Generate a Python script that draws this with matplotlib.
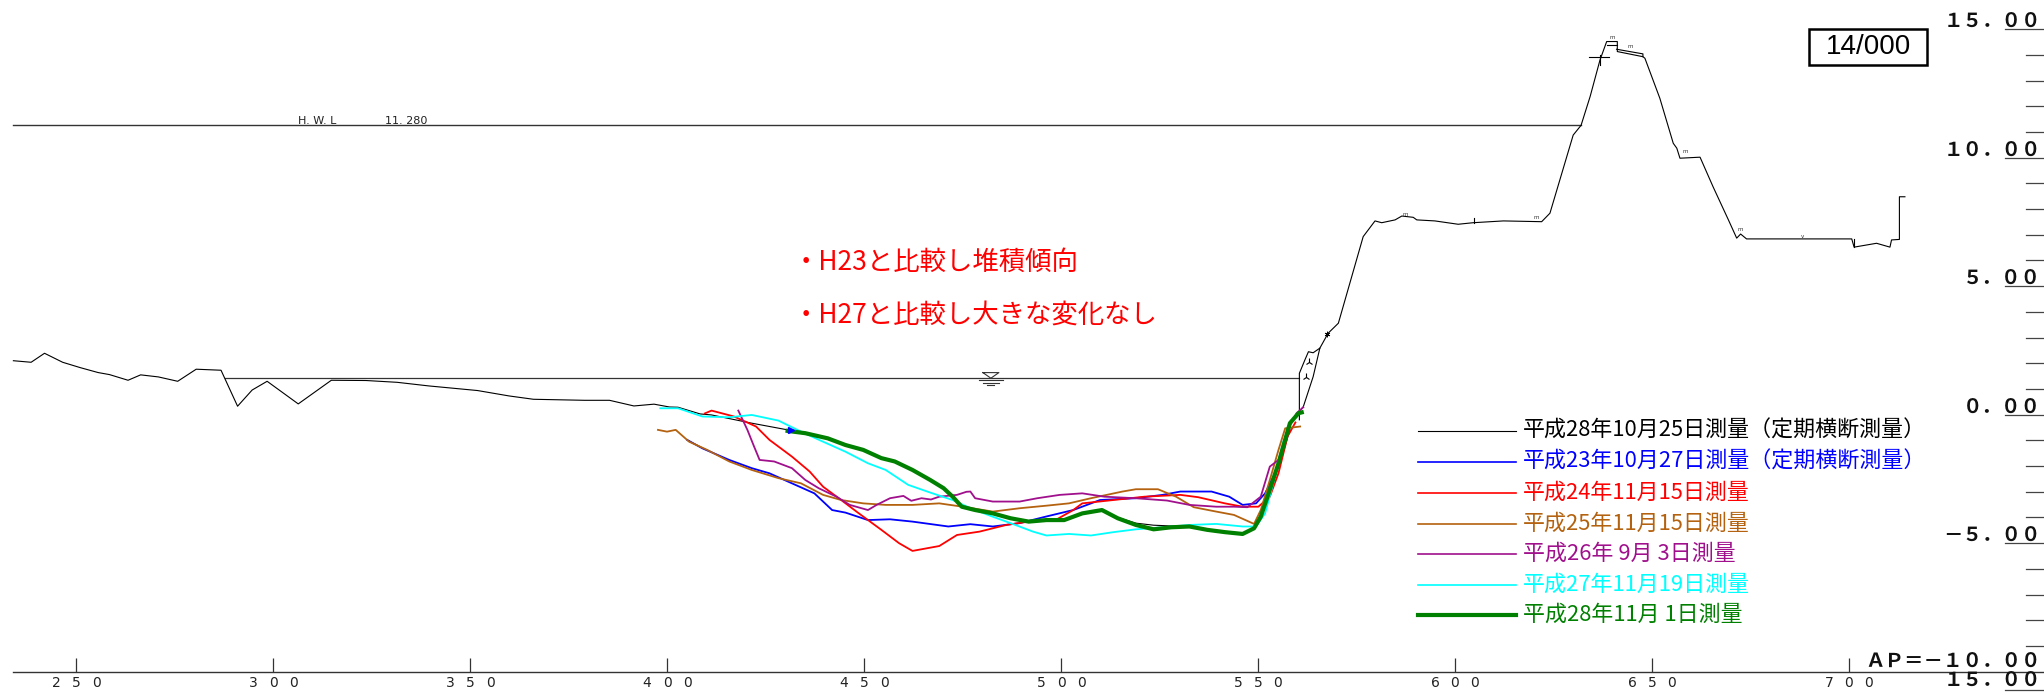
import matplotlib
matplotlib.use('Agg')
import matplotlib.pyplot as plt
from matplotlib.patches import Rectangle

# ---------------- data ----------------
x_ticks = [250, 300, 350, 400, 450, 500, 550, 600, 650, 700]
x_tick_labels = ['250', '300', '350', '400', '450', '500', '550', '600', '650', '700']

y_major_levels = [15, 10, 5, 0, -5]
y_major_labels = ['１５．００', '１０．００', '５．００', '０．００', '－５．００']
datum_label = 'ＡＰ＝－１０．００'
datum_level = -10
scale_label = '１５．００'

hwl_level = 11.28
hwl_text = ['H. W. L', '11. 280']
water_level = 1.42
water_extent = [287.9, 560.5]
section_no = '14/000'

notes = ['・H23と比較し堆積傾向', '・H27と比較し大きな変化なし']

legend_labels = ['平成28年10月25日測量（定期横断測量）',
                 '平成23年10月27日測量（定期横断測量）',
                 '平成24年11月15日測量',
                 '平成25年11月15日測量',
                 '平成26年 9月 3日測量',
                 '平成27年11月19日測量',
                 '平成28年11月 1日測量']

# 平成28年10月25日 (定期横断) - full cross section
h28_1025 = [(234.1, 2.10), (238.6, 2.04), (242.0, 2.39), (246.6, 2.04), (251.1, 1.83), (255.6, 1.64),
            (258.5, 1.56), (263.2, 1.34), (266.4, 1.55), (270.9, 1.47), (275.8, 1.30), (280.5, 1.77),
            (286.8, 1.73), (291.0, 0.33), (294.7, 0.96), (298.5, 1.30), (306.4, 0.42), (314.8, 1.34),
            (323.6, 1.33), (331.5, 1.26), (339.5, 1.12), (351.9, 0.94), (359.9, 0.73), (366.1, 0.60),
            (379.1, 0.56), (385.4, 0.56), (391.6, 0.34), (396.7, 0.41), (400.6, 0.30), (402.8, 0.29),
            (408.4, 0.03), (411.3, -0.01), (421.5, -0.33), (430.6, -0.59), (435.1, -0.70), (440.8, -0.92),
            (445.3, -1.18), (449.8, -1.37), (454.4, -1.69), (457.8, -1.82), (462.3, -2.15), (466.8, -2.54),
            (470.2, -2.86), (472.5, -3.19), (474.8, -3.58), (478.2, -3.71), (482.7, -3.84), (487.2, -4.03),
            (491.8, -4.16), (496.3, -4.10), (500.8, -4.10), (505.4, -3.84), (510.4, -3.71), (514.4, -4.00),
            (519.0, -4.22), (523.5, -4.30), (528.0, -4.33), (532.6, -4.35), (537.1, -4.48), (541.6, -4.57),
            (546.1, -4.64), (549.0, -4.42), (550.7, -3.97), (553.0, -2.92), (555.2, -1.89), (558.1, -0.33),
            (561.5, 0.31), (564.0, 1.48), (565.7, 2.59), (567.8, 3.17), (570.4, 3.56), (576.7, 6.93),
            (579.7, 7.54), (581.4, 7.47), (584.8, 7.58), (586.5, 7.73), (589.4, 7.68), (590.3, 7.58),
            (594.9, 7.54), (600.8, 7.41), (604.6, 7.47), (612.3, 7.54), (622.0, 7.51), (624.1, 7.84),
            (630.0, 10.88), (632.0, 11.26), (634.3, 12.38), (636.8, 13.80), (638.5, 14.52), (641.2, 14.52),
            (641.2, 14.13), (647.7, 13.93), (648.2, 13.87), (652.0, 12.31), (655.4, 10.56), (656.3, 10.37),
            (657.1, 9.98), (662.2, 10.02), (665.5, 8.87), (669.4, 7.58), (671.5, 6.87), (672.5, 7.03),
            (674.0, 6.84), (700.7, 6.84), (701.3, 6.52), (707.0, 6.67), (710.4, 6.52), (710.8, 6.80),
            (712.8, 6.82), (712.8, 8.48), (714.2, 8.48)]

# revetment / crest details drawn with the same line
h28_1025_detail = [
    [(560.5, -0.20), (560.5, 1.61), (561.9, 2.13), (562.8, 2.45), (564.0, 2.41), (565.7, 2.59)],
    [(638.5, 14.39), (641.2, 14.39)],
    [(641.0, 14.22), (647.7, 14.04), (647.7, 13.93)],
    [(604.8, 7.47), (604.8, 7.65)],
    [(701.3, 6.84), (701.3, 6.52)],
    [(636.8, 14.00), (636.8, 13.61)],
    [(634.1, 13.91), (639.2, 13.91)],
]

h23_1027 = [(405.1, -0.98), (409.0, -1.31), (415.8, -1.76), (421.5, -2.08), (426.0, -2.28), (431.7, -2.67),
            (437.4, -3.06), (441.9, -3.71), (445.3, -3.81), (451.0, -4.10), (456.6, -4.07), (462.3, -4.16),
            (471.4, -4.35), (477.0, -4.26), (482.7, -4.35), (489.5, -4.22), (496.3, -3.96), (503.1, -3.71),
            (509.9, -3.32), (518.9, -3.25), (525.8, -3.12), (530.3, -2.99), (538.2, -2.99), (542.7, -3.19),
            (546.1, -3.51), (549.5, -3.45), (551.8, -3.06), (555.2, -2.02), (558.0, -0.59)]

h24_1115 = [(409.6, 0.05), (411.3, 0.16), (417.0, -0.07), (422.6, -0.46), (426.0, -0.98), (431.7, -1.63),
            (436.2, -2.21), (439.6, -2.80), (444.2, -3.32), (448.7, -3.84), (454.4, -4.48), (458.9, -5.00),
            (462.3, -5.30), (469.1, -5.11), (473.6, -4.68), (479.3, -4.55), (486.1, -4.29), (491.8, -4.16),
            (498.6, -4.10), (503.1, -3.71), (505.4, -3.45), (513.3, -3.32), (521.2, -3.19), (530.3, -3.12),
            (534.8, -3.21), (541.6, -3.45), (546.1, -3.58), (550.1, -3.58), (553.0, -3.19), (555.2, -2.28),
            (557.5, -0.85), (559.5, -0.30)]

h25_1115 = [(397.7, -0.59), (400.0, -0.66), (402.2, -0.59), (405.6, -1.05), (410.2, -1.37), (415.8, -1.82),
            (421.5, -2.15), (428.3, -2.47), (434.0, -2.67), (439.6, -3.12), (444.2, -3.32), (449.8, -3.45),
            (455.5, -3.51), (462.3, -3.51), (469.1, -3.45), (475.9, -3.60), (482.7, -3.77), (489.5, -3.64),
            (496.3, -3.54), (502.0, -3.45), (507.6, -3.25), (515.6, -2.99), (519.0, -2.90), (524.6, -2.90),
            (529.2, -3.19), (533.7, -3.60), (539.4, -3.77), (543.9, -3.90), (549.0, -4.25), (550.7, -3.71),
            (553.0, -2.54), (555.2, -1.37), (556.9, -0.53), (560.7, -0.46)]

h26_0903 = [(418.1, 0.16), (420.4, -0.59), (422.1, -1.24), (423.5, -1.76), (427.2, -1.82), (431.7, -2.08),
            (435.1, -2.54), (438.5, -2.86), (443.0, -3.19), (446.4, -3.51), (451.0, -3.71), (453.2, -3.51),
            (456.6, -3.25), (460.0, -3.16), (462.0, -3.35), (464.6, -3.25), (467.0, -3.30), (469.1, -3.19),
            (473.6, -3.12), (476.0, -3.00), (477.0, -2.99), (478.2, -3.25), (482.7, -3.38), (489.5, -3.38),
            (494.0, -3.25), (499.7, -3.12), (505.4, -3.06), (511.0, -3.19), (518.9, -3.25), (526.9, -3.34),
            (532.6, -3.51), (539.4, -3.58), (543.9, -3.58), (547.3, -3.60), (550.7, -3.19), (553.0, -2.02),
            (555.2, -1.76), (557.5, -0.59), (559.8, 0.06), (561.5, 0.29)]

h27_1119 = [(398.3, 0.25), (402.8, 0.25), (409.0, -0.07), (415.8, -0.10), (421.5, -0.01), (428.3, -0.23),
            (434.0, -0.66), (439.6, -1.05), (445.3, -1.44), (451.0, -1.89), (455.5, -2.15), (461.2, -2.73),
            (466.8, -3.03), (472.5, -3.32), (477.0, -3.64), (482.7, -3.97), (487.2, -4.22), (492.9, -4.55),
            (496.3, -4.70), (502.0, -4.64), (507.6, -4.70), (513.3, -4.57), (519.0, -4.46), (525.8, -4.38),
            (532.6, -4.29), (539.4, -4.25), (546.1, -4.35), (549.5, -4.35), (551.8, -3.84), (554.1, -2.54),
            (556.3, -1.11), (558.0, -0.46)]

h28_1101 = [(430.6, -0.63), (435.1, -0.72), (440.8, -0.92), (445.3, -1.18), (449.8, -1.37), (454.4, -1.69),
            (457.8, -1.82), (462.3, -2.15), (466.8, -2.54), (470.2, -2.86), (472.5, -3.19), (474.8, -3.58),
            (478.2, -3.71), (482.7, -3.84), (487.2, -4.03), (491.8, -4.16), (496.3, -4.10), (500.8, -4.10),
            (505.4, -3.84), (510.4, -3.71), (514.4, -4.03), (519.0, -4.29), (523.5, -4.46), (528.0, -4.38),
            (532.6, -4.35), (537.1, -4.48), (541.6, -4.57), (546.1, -4.64), (549.0, -4.42), (550.7, -3.97),
            (553.0, -2.92), (555.2, -1.89), (558.1, -0.33), (560.3, 0.06), (561.1, 0.09)]

series = [h28_1025, h23_1027, h24_1115, h25_1115, h26_0903, h27_1119, h28_1101]
colors = ['#000000', '#0000FF', '#FF0000', '#B4620F', '#A0108C', '#00FFFF', '#008000']
widths = [0.8, 1.3, 1.3, 1.3, 1.3, 1.3, 3.0]

# small symbols on the section
plant_marks = [(562.9, 2.06), (562.1, 1.46)]
star_marks = [(567.6, 3.13)]
grass_marks = [(640.0, 14.67), (644.6, 14.32), (658.4, 10.23), (672.5, 7.21), (620.7, 7.68), (587.5, 7.80)]
v_marks = [(688.3, 6.93)]
water_mark_x = 482.2

# ---------------- figure ----------------
W, H, DPI = 2044, 692, 100
X0, X1 = 230.7, 749.5
Y0, Y1 = -10.79, 16.136
PX_X = W / (X1 - X0)      # pixels per metre horizontally
PX_Y = H / (Y1 - Y0)      # pixels per metre vertically

fig = plt.figure(figsize=(W / DPI, H / DPI), dpi=DPI)
ax = fig.add_axes([0, 0, 1, 1])
ax.set_xlim(X0, X1)
ax.set_ylim(Y0, Y1)
ax.axis('off')

def fx(px):
    return px / W

def fy(py):
    return 1 - py / H

PT = 72.0 / DPI  # points per pixel
JP = 'Noto Sans CJK JP'
ytr = ax.get_yaxis_transform()

# bottom axis line and ticks
x_start = h28_1025[0][0]
ax.plot([x_start, X1], [datum_level, datum_level], color='#333333', lw=1.0)
ax.vlines(x_ticks, datum_level, datum_level + 13.5 / PX_Y, color='#333333', lw=0.9)
for t, lbl in zip(x_ticks, x_tick_labels):
    n = len(lbl)
    for i, ch in enumerate(lbl):
        ax.annotate(ch, xy=(t, datum_level), xytext=((i - (n - 1) / 2) * 20 * PT, -11.5 * PT),
                    textcoords='offset points', ha='center', va='center', fontsize=10,
                    color='#222222', family='DejaVu Sans')

# right scale
for v in range(datum_level + 1, 16):
    start = fx(2005) if v % 5 == 0 else fx(2026)
    ax.plot([start, 1], [v, v], transform=ytr, color='#444444', lw=0.9)
lab_kw = dict(textcoords='offset points', ha='right', va='center', fontsize=14, family=JP,
              fontweight='bold', color='#111111')
for v, lbl in zip(y_major_levels, y_major_labels):
    ax.annotate(lbl, xy=(1, v), xycoords=ytr, xytext=(-3 * PT, 7.5 * PT), **lab_kw)
ax.annotate(datum_label, xy=(1, datum_level), xycoords=ytr, xytext=(-3 * PT, 10 * PT), **lab_kw)
ax.annotate(scale_label, xy=(1, datum_level), xycoords=ytr, xytext=(-3 * PT, -8.5 * PT), **lab_kw)
ax.plot([fx(2005), 1], [fy(690), fy(690)], transform=ax.transAxes, color='#444444', lw=0.9)

# H.W.L.
hwl_end = 632.0
ax.plot([x_start, hwl_end], [hwl_level, hwl_level], color='#333333', lw=1.0)
ax.annotate(hwl_text[0], xy=(x_start, hwl_level), xytext=((297.7 - (x_start - X0) * PX_X) * PT, 3.5 * PT),
            textcoords='offset points', ha='left', va='center', fontsize=8, color='#222222')
ax.annotate(hwl_text[1], xy=(x_start, hwl_level), xytext=((385.0 - (x_start - X0) * PX_X) * PT, 3.5 * PT),
            textcoords='offset points', ha='left', va='center', fontsize=8, color='#222222')

# water level line + symbol
ax.plot(water_extent, [water_level, water_level], color='#333333', lw=0.9)
tw = 8 / PX_X
th = 5.6 / PX_Y
ax.plot([water_mark_x - tw, water_mark_x + tw, water_mark_x, water_mark_x - tw],
        [water_level + th, water_level + th, water_level, water_level + th], color='#333333', lw=0.8)
for dy, hw in [(2.0, 12.3), (4.3, 7.8), (6.3, 3.4)]:
    ax.plot([water_mark_x - hw / PX_X, water_mark_x + hw / PX_X],
            [water_level - dy / PX_Y] * 2, color='#333333', lw=0.8)

# survey lines
for pts, c, w in zip(series, colors, widths):
    xs, ys = zip(*pts)
    ax.plot(xs, ys, color=c, lw=w, solid_joinstyle='round', zorder=3 if c != '#000000' else 2)
for seg in h28_1025_detail:
    xs, ys = zip(*seg)
    ax.plot(xs, ys, color='#000000', lw=0.8, zorder=2)

# small marker on start of H28-11 line
ax.plot([h28_1101[0][0] + 0.8], [h28_1101[0][1] + 0.05], marker='>', color='#0000FF', ms=5, zorder=4)

# section symbols
for x, y in plant_marks:
    ax.plot([x], [y], marker='2', color='black', ms=6, mew=0.8)
for x, y in star_marks:
    ax.plot([x], [y], marker=(6, 2, 0), color='black', ms=4, mew=0.6)
for x, y in grass_marks:
    ax.text(x, y, 'm', fontsize=4, color='#333333', ha='center', va='center')
for x, y in v_marks:
    ax.text(x, y, 'v', fontsize=4, color='#333333', ha='center', va='center')

# notes
for txt, py in zip(notes, [262.5, 315.0]):
    ax.text(fx(793), fy(py), txt, transform=ax.transAxes, fontsize=19, color='#FF0000',
            family=JP, ha='left', va='center')

# legend (drawn by hand)
leg_rows = [431, 461.5, 492.5, 523.5, 554, 584.5, 615]
for lbl, c, w, py in zip(legend_labels, colors, widths, leg_rows):
    ax.plot([fx(1418), fx(1516)], [fy(py), fy(py)], transform=ax.transAxes, color=c,
            lw=w if w > 2 else (0.8 if c == '#000000' else 1.2))
    ax.text(fx(1523), fy(py), lbl, transform=ax.transAxes, fontsize=15.8, color=c,
            family=JP, ha='left', va='center')

# section number box
ax.add_patch(Rectangle((fx(1809.3), fy(65)), (1927.3 - 1809.3) / W, (65 - 29.3) / H,
                       transform=ax.transAxes, fill=False, lw=1.8, edgecolor='black'))
ax.text(fx(1868.3), fy(47.5), section_no, transform=ax.transAxes, fontsize=20,
        family='Liberation Sans', ha='center', va='center', color='black')

fig.savefig('out.png', dpi=DPI)
